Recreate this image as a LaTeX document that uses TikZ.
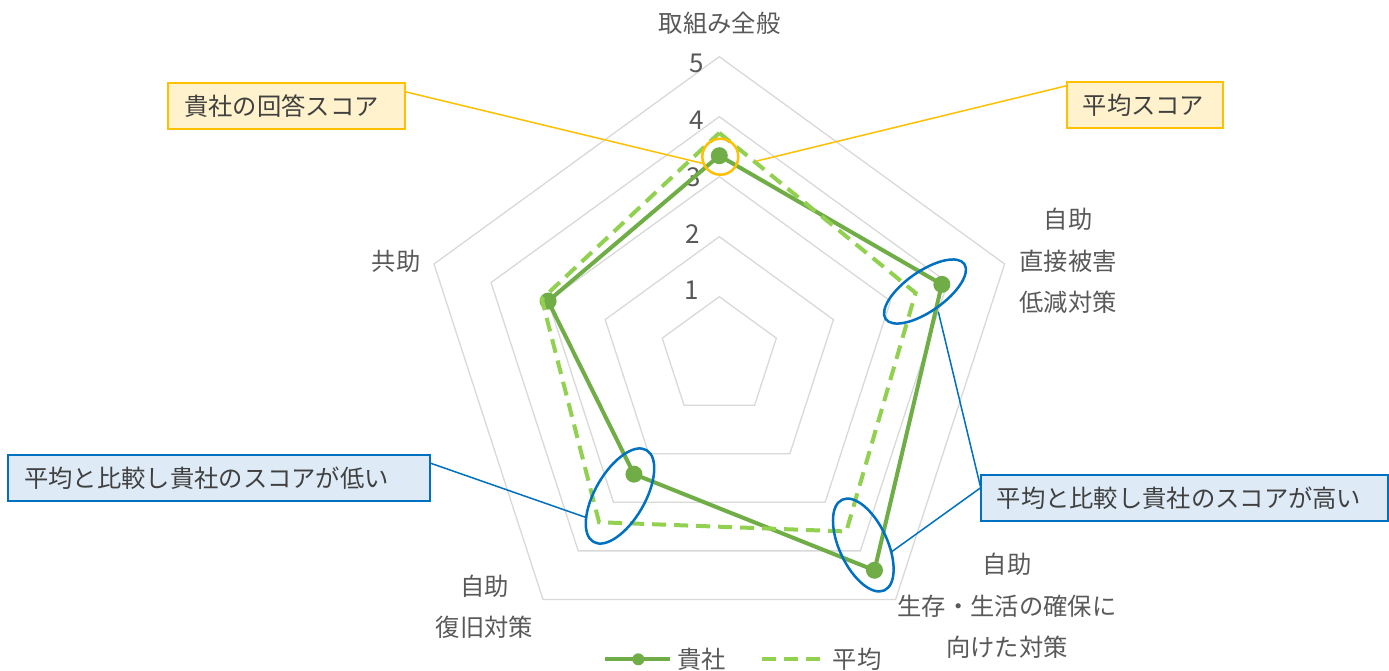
\documentclass[tikz,border=0pt]{standalone}
\usepackage{fontspec}
\newfontfamily\jp{Noto Sans CJK JP}
\usetikzlibrary{shapes.geometric}
\definecolor{gridc}{HTML}{D9D9D9}
\definecolor{labc}{HTML}{595959}
\definecolor{boxtxt}{HTML}{404040}
\definecolor{ownc}{HTML}{70AD47}
\definecolor{avgc}{HTML}{92D050}
\definecolor{ylw}{HTML}{FFC000}
\definecolor{ylwfill}{HTML}{FFF2CC}
\definecolor{blu}{HTML}{0070C0}
\definecolor{blufill}{HTML}{DEEBF7}
\begin{document}
\begin{tikzpicture}[x=1pt,y=-1pt,
  gridline/.style={draw=gridc, line width=1.3pt},
  lab/.style={font=\jp\fontsize{24.3}{41.5}\selectfont, text=labc, align=center, inner sep=0},
  tick/.style={font=\jp\fontsize{26}{30}\selectfont, text=labc, inner sep=0},
  ownline/.style={draw=ownc, line width=4pt, line join=round},
  avgline/.style={draw=avgc, line width=4pt, dash pattern=on 14pt off 8pt},
  dotm/.style={circle, fill=ownc, inner sep=0, minimum size=17pt},
  callout/.style={anchor=north west, line width=2pt, inner xsep=16pt, inner ysep=0,
    outer sep=0, align=left, font=\jp\fontsize{24.3}{28}\selectfont, text=boxtxt},
  ybox/.style={callout, draw=ylw, fill=ylwfill},
  bbox/.style={callout, draw=blu, fill=blufill},
  yconn/.style={draw=ylw, line width=1.5pt},
  bconn/.style={draw=blu, line width=1.5pt},
  ring/.style={draw=blu, line width=2.5pt, ellipse, inner sep=0, outer sep=0}]
\useasboundingbox[fill=white] (0,0) rectangle (1389,670);

% grid
\begin{scope}[shift={(719.3,356.7)}]
  \foreach \k in {1,...,5}
    \draw[gridline] (-90:60*\k) -- (-18:60*\k) -- (54:60*\k) -- (126:60*\k) -- (198:60*\k) -- cycle;
  % data points
  \coordinate (o1) at (-90:201);
  \coordinate (o2) at (-18:234);
  \coordinate (o3) at (54:264);
  \coordinate (o4) at (126:145.2);
  \coordinate (o5) at (198:180);
  \coordinate (a1) at (-90:223.8);
  \coordinate (a2) at (-18:206.4);
  \coordinate (a3) at (54:216);
  \coordinate (a4) at (126:204.6);
  \coordinate (a5) at (198:186.6);
\end{scope}

% tick labels
\node[tick] (t5) at (696.7,63.3) {5};
\node[tick] (t4) at (696.7,120) {4};
\node[tick] (t3) at (694,177) {3};
\node[tick] (t2) at (692.3,234) {2};
\node[tick] (t1) at (692,290.7) {1};

% category labels
\node[lab] (c1) at (719.7,23.3) {取組み全般};
\node[lab] (c2) at (1068,261) {自助\\直接被害\\低減対策};
\node[lab] (c3) at (1007,606) {自助\\生存・生活の確保に\\向けた対策};
\node[lab] (c4) at (484.5,607) {自助\\復旧対策};
\node[lab] (c5) at (396.2,261) {共助};

% series
\draw[ownline] (o1) -- (o2) -- (o3) -- (o4) -- (o5) -- cycle;
\foreach \p in {o1,o2,o3,o4,o5}
  \node[dotm] (m\p) at (\p) {};
\draw[avgline] (a1) -- (a2) -- (a3) -- (a4) -- (a5) -- cycle;

% highlight shapes
\node[draw=ylw, line width=2.5pt, circle, minimum size=36pt, inner sep=0] (hl) at (720.3,156.7) {};
\node[ring, minimum width=96pt, minimum height=40pt, rotate=35] (e1) at (925,291.5) {};
\node[ring, minimum width=100pt, minimum height=48pt, rotate=-65] (e2) at (863.3,545) {};
\node[ring, minimum width=106pt, minimum height=50pt, rotate=60] (e3) at (620,496) {};

% callout boxes
\node[ybox, minimum width=236.7pt, minimum height=46.3pt, text width=204.7pt] (ownb) at (168.3,82.7) {貴社の回答スコア};
\node[ybox, minimum width=156pt, minimum height=46pt, text width=124pt] (avgb) at (1066.7,82.3) {平均スコア};
\node[bbox, minimum width=421.7pt, minimum height=46pt, text width=389.7pt] (low) at (8.3,455) {平均と比較し貴社のスコアが低い};
\node[bbox, minimum width=407pt, minimum height=46pt, text width=375pt] (high) at (980.7,475) {平均と比較し貴社のスコアが高い};

% connector ends
\coordinate (pa) at (756.7,161);
\coordinate (p1) at (938.3,311.7);
\coordinate (p2) at (891.7,551.7);
\coordinate (p3) at (586.7,517.7);

\draw[yconn] ([yshift=-9pt]ownb.north east) -- (hl.200);
\draw[yconn] ([yshift=-3.4pt]avgb.north west) -- (pa);
\draw[bconn] ([yshift=-8pt]low.north east) -- (p3);
\draw[bconn] ([yshift=-12.7pt]high.north west) -- (p1);
\draw[bconn] ([yshift=-12.7pt]high.north west) -- (p2);

% legend
\draw[ownline] (605,659.3) -- (670,659.3);
\node[dotm, minimum size=12pt] (lgdot) at (638.3,659.3) {};
\node[lab, anchor=west] (lg1) at (677,659) {貴社};
\draw[avgline] (761.7,659.3) -- (820,659.3);
\node[lab, anchor=west] (lg2) at (832.7,659) {平均};
\end{tikzpicture}
\end{document}
